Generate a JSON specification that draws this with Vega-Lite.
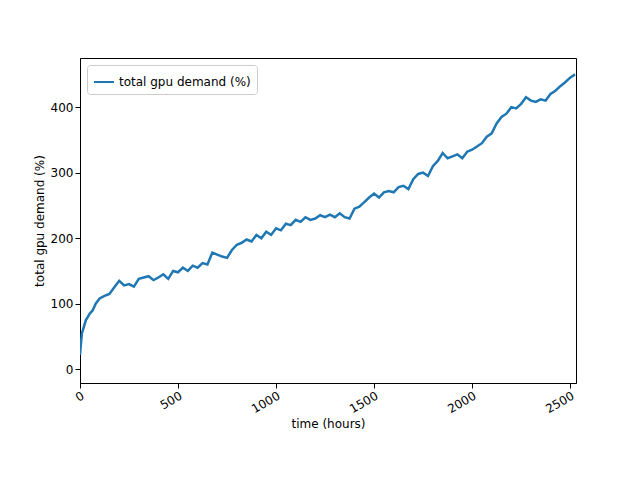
{
"$schema":"https://vega.github.io/schema/vega-lite/v6.json",
"width":496,"height":325,
"autosize":{"type":"none"},
"padding":{"left":80,"top":58,"right":64,"bottom":97},
"background":"white",
"config":{"font":"DejaVu Sans","view":{"stroke":"black"},"axis":{"grid":false,"domainColor":"black","tickColor":"black","labelColor":"black","titleColor":"black","labelFontSize":12,"titleFontSize":12,"titleFontWeight":"normal","labelFont":"DejaVu Sans","titleFont":"DejaVu Sans"}},
"data":{"values":[
{"t":0,"v":22},{"t":5,"v":40},{"t":10,"v":55},{"t":20,"v":65},{"t":30,"v":75},{"t":40,"v":80},{"t":50,"v":85},{"t":65,"v":90},{"t":80,"v":100},{"t":100,"v":108},{"t":125,"v":112},{"t":150,"v":115},{"t":175,"v":125},{"t":200,"v":135},{"t":225,"v":128},{"t":250,"v":130},{"t":275,"v":126},{"t":300,"v":138},{"t":325,"v":140},{"t":350,"v":142},{"t":375,"v":136},{"t":400,"v":140},{"t":425,"v":145},{"t":450,"v":138},{"t":475,"v":150},{"t":500,"v":148},{"t":525,"v":155},{"t":550,"v":150},{"t":575,"v":158},{"t":600,"v":155},{"t":625,"v":162},{"t":650,"v":160},{"t":675,"v":178},{"t":700,"v":175},{"t":725,"v":172},{"t":750,"v":170},{"t":775,"v":182},{"t":800,"v":190},{"t":825,"v":193},{"t":850,"v":198},{"t":875,"v":195},{"t":900,"v":205},{"t":925,"v":200},{"t":950,"v":210},{"t":975,"v":205},{"t":1000,"v":215},{"t":1025,"v":212},{"t":1050,"v":222},{"t":1075,"v":220},{"t":1100,"v":228},{"t":1125,"v":225},{"t":1150,"v":232},{"t":1175,"v":228},{"t":1200,"v":230},{"t":1225,"v":235},{"t":1250,"v":232},{"t":1275,"v":236},{"t":1300,"v":232},{"t":1325,"v":238},{"t":1350,"v":232},{"t":1375,"v":230},{"t":1400,"v":245},{"t":1425,"v":248},{"t":1450,"v":255},{"t":1475,"v":262},{"t":1500,"v":268},{"t":1525,"v":262},{"t":1550,"v":270},{"t":1575,"v":272},{"t":1600,"v":270},{"t":1625,"v":278},{"t":1650,"v":280},{"t":1675,"v":275},{"t":1700,"v":290},{"t":1725,"v":298},{"t":1750,"v":300},{"t":1775,"v":295},{"t":1800,"v":310},{"t":1825,"v":318},{"t":1850,"v":330},{"t":1875,"v":322},{"t":1900,"v":325},{"t":1925,"v":328},{"t":1950,"v":322},{"t":1975,"v":332},{"t":2000,"v":335},{"t":2025,"v":340},{"t":2050,"v":345},{"t":2075,"v":355},{"t":2100,"v":360},{"t":2125,"v":375},{"t":2150,"v":385},{"t":2175,"v":390},{"t":2200,"v":400},{"t":2225,"v":398},{"t":2250,"v":405},{"t":2275,"v":415},{"t":2300,"v":410},{"t":2325,"v":408},{"t":2350,"v":412},{"t":2375,"v":410},{"t":2400,"v":420},{"t":2425,"v":425},{"t":2450,"v":432},{"t":2475,"v":438},{"t":2500,"v":445},{"t":2525,"v":450}
]},
"transform":[{"calculate":"'total gpu demand (%)'","as":"s"}],
"mark":{"type":"line","strokeWidth":2.5,"clip":true},
"encoding":{
"x":{"field":"t","type":"quantitative","scale":{"domain":[0,2530],"nice":false,"zero":false},"axis":{"title":"time (hours)","format":"d","values":[0,500,1000,1500,2000,2500],"labelAngle":-30,"labelAlign":"right","labelBaseline":"top"}},
"y":{"field":"v","type":"quantitative","scale":{"domain":[-21,475],"nice":false},"axis":{"title":"total gpu demand (%)","format":"d","values":[0,100,200,300,400]}},
"color":{"field":"s","type":"nominal","scale":{"range":["#1f77b4"]},"legend":{"title":null,"orient":"top-left","offset":7,"strokeColor":"#cccccc","fillColor":"white","padding":6,"cornerRadius":3,"symbolType":"stroke","symbolSize":400,"symbolStrokeWidth":2,"labelFontSize":12,"labelFont":"DejaVu Sans"}}
}
}
